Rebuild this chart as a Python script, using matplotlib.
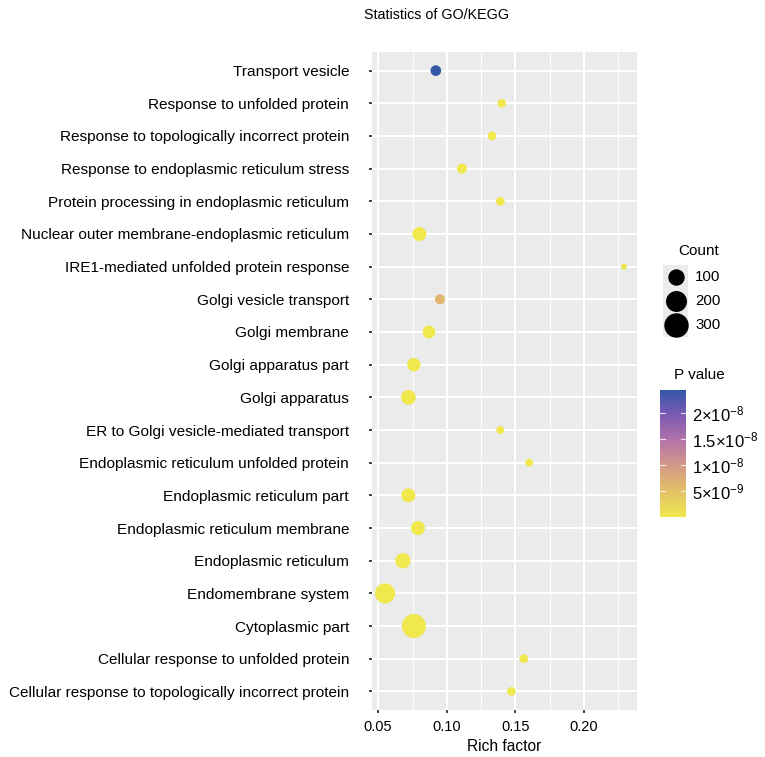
import matplotlib
matplotlib.use("Agg")
import matplotlib.pyplot as plt
import numpy as np
from matplotlib.colors import LinearSegmentedColormap, Normalize
from matplotlib.ticker import FixedLocator

plt.rcParams["font.family"] = ["Liberation Sans", "DejaVu Sans"]
plt.rcParams["mathtext.fontset"] = "custom"
plt.rcParams["mathtext.rm"] = "Liberation Sans"
plt.rcParams["mathtext.it"] = "Liberation Sans"

# ── Data (top row first) ──────────────────────────────────────────────────────
terms = [
    "Transport vesicle",
    "Response to unfolded protein",
    "Response to topologically incorrect protein",
    "Response to endoplasmic reticulum stress",
    "Protein processing in endoplasmic reticulum",
    "Nuclear outer membrane-endoplasmic reticulum",
    "IRE1-mediated unfolded protein response",
    "Golgi vesicle transport",
    "Golgi membrane",
    "Golgi apparatus part",
    "Golgi apparatus",
    "ER to Golgi vesicle-mediated transport",
    "Endoplasmic reticulum unfolded protein",
    "Endoplasmic reticulum part",
    "Endoplasmic reticulum membrane",
    "Endoplasmic reticulum",
    "Endomembrane system",
    "Cytoplasmic part",
    "Cellular response to unfolded protein",
    "Cellular response to topologically incorrect protein",
]
rich_factor = [0.092, 0.140, 0.133, 0.111, 0.139, 0.080, 0.229, 0.095, 0.087,
               0.076, 0.072, 0.139, 0.160, 0.072, 0.079, 0.068, 0.055, 0.076,
               0.156, 0.147]
count = [37, 18, 18, 30, 18, 83, 3, 30, 62, 72, 95, 13, 13, 83, 83, 106,
         212, 330, 18, 18]
p_value = [2.45e-8, 1e-12, 2e-12, 5e-11, 1e-12, 3e-11, 4e-10, 6.2e-9, 2e-11,
           1e-11, 5e-12, 6e-11, 8e-11, 1e-12, 2e-12, 1e-13, 1e-14, 1e-15,
           3e-11, 2e-11]

size_breaks = [100, 200, 300]
p_ticks = [5e-9, 1e-8, 1.5e-8, 2e-8]
p_tick_labels = [r"$5{\times}10^{-9}$", r"$1{\times}10^{-8}$",
                 r"$1.5{\times}10^{-8}$", r"$2{\times}10^{-8}$"]
x_ticks = [0.05, 0.10, 0.15, 0.20]

# ── Style ─────────────────────────────────────────────────────────────────────
W, H, DPI = 765, 757, 100
PANEL_BG = "#EBEBEB"
cmap = LinearSegmentedColormap.from_list(
    "p", ["#F0E84C", "#E4C067", "#D49A86", "#B474A8", "#7E5AB4", "#3457A8"])


def diam_px(c):
    return 4.0 + 1.1 * np.sqrt(np.asarray(c, dtype=float))


def marker_area(c):
    return (diam_px(c) * 72.0 / DPI) ** 2


def fx(px):
    return px / W


def fy(py):
    return 1 - py / H


fig = plt.figure(figsize=(W / DPI, H / DPI), dpi=DPI)
ax = fig.add_axes([fx(372), fy(710), fx(637) - fx(372), fy(52) - fy(710)])
ax.set_facecolor(PANEL_BG)

n = len(terms)
ypos = np.arange(n, 0, -1)
norm = Normalize(vmin=min(p_value), vmax=max(p_value))
sc = ax.scatter(rich_factor, ypos, s=marker_area(count), c=p_value, cmap=cmap,
                norm=norm, edgecolors="none", zorder=3)

ax.set_xlim(0.0455, 0.2385)
ax.set_ylim(0.43, n + 0.57)
ax.set_xticks(x_ticks)
ax.set_xticklabels([f"{t:.2f}" for t in x_ticks])
ax.xaxis.set_minor_locator(FixedLocator([0.075, 0.125, 0.175, 0.225]))
ax.set_yticks(ypos)
ax.set_yticklabels(terms)
ax.grid(which="major", color="white", lw=1.5, zorder=1)
ax.grid(which="minor", axis="x", color="white", lw=0.7, zorder=1)
ax.set_axisbelow(True)
for s in ax.spines.values():
    s.set_visible(False)
ax.tick_params(axis="both", which="major", length=2.5, width=1.3, color="#333333",
               labelcolor="black")
ax.tick_params(axis="y", labelsize=11.1, pad=14)
ax.tick_params(axis="x", labelsize=10.5, pad=5)
ax.tick_params(axis="x", which="minor", length=0)
ax.set_xlabel("Rich factor", fontsize=11.2, labelpad=3)

fig.text(fx(437), fy(15), "Statistics of GO/KEGG", ha="center", va="center",
         fontsize=10.3)

# ── Size legend ───────────────────────────────────────────────────────────────
fig.text(fx(678), fy(251), "Count", ha="left", va="center", fontsize=11)
key_y = [277, 301, 325]
lax = fig.add_axes([0, 0, 1, 1], facecolor="none")
lax.set_xlim(0, W)
lax.set_ylim(H, 0)
lax.axis("off")
for b, yy in zip(size_breaks, key_y):
    lax.add_patch(plt.Rectangle((663, yy - 12), 25, 24, color=PANEL_BG, lw=0))
    lax.scatter([676], [yy], s=marker_area(b), color="black", zorder=3)
    lax.text(695, yy, str(b), ha="left", va="center", fontsize=10.8)

# ── Colour bar ────────────────────────────────────────────────────────────────
fig.text(fx(674), fy(375), "P value", ha="left", va="center", fontsize=11)
cax = fig.add_axes([fx(660), fy(517), fx(686) - fx(660), fy(390) - fy(517)])
cb = fig.colorbar(sc, cax=cax)
cb.outline.set_visible(False)
cb.set_ticks(p_ticks)
cb.set_ticklabels(p_tick_labels)
cax.tick_params(length=0, labelsize=12, pad=4)
for t in p_ticks:
    cax.plot([0, 0.2], [t, t], color="white", lw=0.8, alpha=0.8, transform=cax.get_yaxis_transform())
    cax.plot([0.8, 1.0], [t, t], color="white", lw=0.8, alpha=0.8, transform=cax.get_yaxis_transform())

fig.savefig("out.png", dpi=DPI)
